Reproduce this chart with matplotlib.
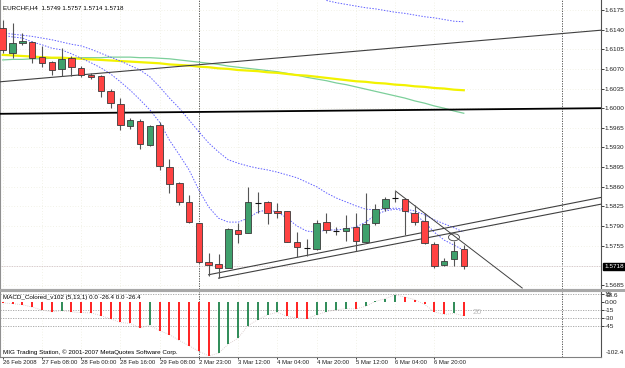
import matplotlib
matplotlib.use('Agg')
import matplotlib.pyplot as plt
import numpy as np
from matplotlib.patches import Rectangle, Ellipse

W, H = 625, 368
FONT = ['Liberation Sans', 'DejaVu Sans']
plt.rcParams['font.family'] = FONT

# ---------------- data ----------------
opens = [1.6143, 1.6098, 1.6116, 1.6118, 1.6091, 1.6082, 1.6070, 1.6089, 1.6072, 1.6059,
         1.6057, 1.6030, 1.6008, 1.5969, 1.5977, 1.5934, 1.5970, 1.5895, 1.5867, 1.5833,
         1.5795, 1.5726, 1.5722, 1.5716, 1.5783, 1.5778, 1.5831, 1.5833, 1.5817, 1.5816,
         1.5762, 1.5752, 1.5749, 1.5797, 1.5782, 1.5781, 1.5788, 1.5762, 1.5796, 1.5822,
         1.5841, 1.5839, 1.5814, 1.5799, 1.5758, 1.5721, 1.5731, 1.5749]
highs = [1.6157, 1.6152, 1.6134, 1.6120, 1.6111, 1.6084, 1.6107, 1.6093, 1.6075, 1.6063,
         1.6059, 1.6034, 1.6018, 1.5983, 1.5981, 1.5970, 1.5976, 1.5910, 1.5868, 1.5845,
         1.5796, 1.5742, 1.5740, 1.5786, 1.5795, 1.5860, 1.5851, 1.5835, 1.5831, 1.5817,
         1.5779, 1.5767, 1.5801, 1.5814, 1.5789, 1.5810, 1.5814, 1.5849, 1.5829, 1.5841,
         1.5853, 1.5840, 1.5828, 1.5813, 1.5762, 1.5733, 1.5763, 1.5757]
lows = [1.6098, 1.6089, 1.6113, 1.6081, 1.6073, 1.6059, 1.6057, 1.6057, 1.6056, 1.6052,
        1.6020, 1.6000, 1.5961, 1.5963, 1.5927, 1.5933, 1.5889, 1.5849, 1.5828, 1.5795,
        1.5724, 1.5701, 1.5697, 1.5715, 1.5760, 1.5777, 1.5813, 1.5794, 1.5804, 1.5761,
        1.5735, 1.5737, 1.5747, 1.5778, 1.5774, 1.5764, 1.5746, 1.5761, 1.5792, 1.5816,
        1.5833, 1.5774, 1.5792, 1.5758, 1.5715, 1.5718, 1.5719, 1.5714]
closes = [1.6104, 1.6116, 1.6120, 1.6089, 1.6081, 1.6068, 1.6088, 1.6073, 1.6059, 1.6056,
          1.6031, 1.6009, 1.5970, 1.5979, 1.5936, 1.5969, 1.5897, 1.5865, 1.5833, 1.5797,
          1.5726, 1.5720, 1.5715, 1.5785, 1.5776, 1.5833, 1.5832, 1.5814, 1.5813, 1.5762,
          1.5753, 1.5751, 1.5796, 1.5783, 1.5782, 1.5786, 1.5763, 1.5794, 1.5820, 1.5839,
          1.5840, 1.5816, 1.5798, 1.5759, 1.5719, 1.5728, 1.5746, 1.5718]

ma_yellow = [1.6095, 1.6094, 1.6093, 1.6092, 1.6091, 1.6090, 1.6090, 1.6089, 1.6088, 1.6087,
             1.6086, 1.6085, 1.6084, 1.6083, 1.6082, 1.6081, 1.6080, 1.6078, 1.6077, 1.6076,
             1.6074, 1.6073, 1.6071, 1.6070, 1.6068, 1.6067, 1.6066, 1.6064, 1.6063, 1.6061,
             1.6059, 1.6058, 1.6056, 1.6054, 1.6052, 1.6050, 1.6048, 1.6047, 1.6045, 1.6044,
             1.6042, 1.6041, 1.6039, 1.6038, 1.6036, 1.6035, 1.6033, 1.6032]
ma_green = [1.6086, 1.6087, 1.6087, 1.6088, 1.6088, 1.6089, 1.6089, 1.6089, 1.6090, 1.6090,
            1.6090, 1.6091, 1.6091, 1.6091, 1.6090, 1.6090, 1.6089, 1.6088, 1.6086, 1.6084,
            1.6082, 1.6080, 1.6078, 1.6075, 1.6073, 1.6071, 1.6069, 1.6067, 1.6065, 1.6062,
            1.6059, 1.6055, 1.6052, 1.6049, 1.6045, 1.6042, 1.6038, 1.6034, 1.6030, 1.6026,
            1.6022, 1.6018, 1.6013, 1.6009, 1.6004, 1.6000, 1.5995, 1.5991]
ma_fast = [1.6130, 1.6127, 1.6125, 1.6118, 1.6113, 1.6107, 1.6104, 1.6097, 1.6089, 1.6081,
           1.6072, 1.6061, 1.6047, 1.6032, 1.6015, 1.5997, 1.5975, 1.5943, 1.5917, 1.5890,
           1.5854, 1.5824, 1.5804, 1.5797, 1.5797, 1.5804, 1.5815, 1.5819, 1.5815, 1.5804,
           1.5790, 1.5781, 1.5779, 1.5783, 1.5783, 1.5785, 1.5788, 1.5797, 1.5810, 1.5817,
           1.5820, 1.5817, 1.5811, 1.5797, 1.5779, 1.5765, 1.5756, 1.5747]
ma_mid = [1.6134, 1.6132, 1.6130, 1.6128, 1.6125, 1.6122, 1.6118, 1.6114, 1.6111, 1.6105,
          1.6098, 1.6091, 1.6084, 1.6076, 1.6068, 1.6056, 1.6038, 1.6018, 1.6000, 1.5979,
          1.5958, 1.5938, 1.5922, 1.5908, 1.5902, 1.5897, 1.5893, 1.5890, 1.5886, 1.5881,
          1.5876, 1.5868, 1.5860, 1.5849, 1.5840, 1.5833, 1.5826, 1.5820, 1.5819, 1.5820,
          1.5822, 1.5820, 1.5817, 1.5810, 1.5801, 1.5794, 1.5787, 1.5779]
ma_slow = [np.nan] * 33 + [1.6192, 1.6188, 1.6185, 1.6182, 1.6179,
                           1.6177, 1.6174, 1.6171, 1.6169, 1.6166, 1.6163, 1.6161, 1.6158,
                           1.6155, 1.6154]

macd = [-2, -3.5, -5.5, -10, -15.5, -19, -17, -19, -20.5, -21,
        -26, -32.5, -39, -41, -49.5, -44.5, -54.5, -62, -73, -83,
        -93.5, -102.4, -97, -80, -68.5, -45, -34, -24.5, -20, -27.5,
        -30.5, -32, -24.5, -19, -15, -13, -13.5, -8.5, 0.8, 6,
        13, 9, 4, -5, -19, -24, -22, -26.4]

# drawn objects (bar index, price)
trend_lines = [((-0.3, 1.6047), (61.0, 1.6139), '#404040', 0.8),
               ((-0.3, 1.5990), (61.0, 1.6000), '#000000', 1.3),
               ((20.93, 1.5703), (61.0, 1.5841), '#404040', 0.8),
               ((21.95, 1.5697), (61.0, 1.5829), '#404040', 0.8),
               ((40.0, 1.5853), (53.0, 1.5679), '#404040', 0.7)]
vlines_at = [20, 57]
circle = (46.0, 1.5770, 1.12, 0.00125)

price_ticks = [1.6175, 1.6140, 1.6105, 1.6070, 1.6035, 1.6000, 1.5965, 1.5930,
               1.5895, 1.5860, 1.5825, 1.5790, 1.5755, 1.5685]
last_price = 1.5718
time_pos = [0, 4, 8, 12, 16, 20, 24, 28, 32, 36, 40, 44]
time_labels = ['26 Feb 2008', '27 Feb 08:00', '28 Feb 00:00', '28 Feb 16:00',
               '29 Feb 08:00', '2 Mar 23:00', '3 Mar 12:00', '4 Mar 04:00',
               '4 Mar 20:00', '5 Mar 12:00', '6 Mar 04:00', '6 Mar 20:00']
macd_levels = [15, -15, -30, -45]
macd_ticks = [15, 0, -15, -30, -45]
macd_ticklabels = ['15', '0.00', '-15', '-30', '-45']
macd_max, macd_min = 18.6, -102.4

title = 'EURCHF,H4  1.5749 1.5757 1.5714 1.5718'
macd_title = 'MACD_Colored_v102 (5,13,1) 0.0 -26.4 0.0 -26.4'
footer = 'MIG Trading Station, \u00a9 2001-2007 MetaQuotes Software Corp.'

FS_AX = 4.6
FS_TXT = 4.5
FS_TIME = 4.3

# ---------------- figure ----------------
fig = plt.figure(figsize=(W / 100, H / 100), dpi=100)
fig.patch.set_facecolor('white')

ax = fig.add_axes([0, (H - 289) / H, 601 / W, 289 / H])
axm = fig.add_axes([0, (H - 357) / H, 601 / W, 66 / H])
XL = (-0.275, 60.99)
for a in (ax, axm):
    a.set_xlim(*XL)
    a.set_facecolor('white')
ax.set_ylim(1.56778, 1.61928)
axm.set_ylim(-104.3, 20.4)

# separator band between panels
fig.patches.append(Rectangle((0, (H - 291.5) / H), 1, 2.5 / H, transform=fig.transFigure,
                             fc='#a8a8a8', ec='none', zorder=0))

x = np.arange(len(opens))

# grid
for t in price_ticks:
    ax.axhline(t, color='#e6e6d2', lw=0.5, ls=(0, (1, 3)), zorder=0)
for a in (ax, axm):
    for t in time_pos:
        a.axvline(t, color='#e6e6d2', lw=0.5, ls=(0, (1, 3)), zorder=0)

# vertical dotted separators
for v in vlines_at:
    for a in (ax, axm):
        a.axvline(v, color='#404040', lw=0.6, ls=(0, (1.5, 1.5)), zorder=1)

# current price line
ax.axhline(last_price, color='#c8b8b8', lw=0.6, ls=(0, (1, 1)), zorder=1)

# moving averages
ax.plot(x, ma_green, color='#7ccf9a', lw=0.9, zorder=2)
ax.plot(x, ma_yellow, color='#f2f200', lw=1.6, zorder=2)
for ma in (ma_fast, ma_mid, ma_slow):
    ax.plot(x, ma, color='#6060ff', lw=0.7, ls=(0, (1.5, 1.5)), zorder=2)

# trend lines
for (x0, y0), (x1, y1), c, lw in trend_lines:
    ax.plot([x0, x1], [y0, y1], color=c, lw=lw, zorder=3, solid_capstyle='butt')
ax.add_patch(Ellipse(circle[:2], circle[2], circle[3], fill=False, ec='#404040', lw=0.6, zorder=5))

# candles
bw = 0.66
ax.vlines(x, lows, highs, color='#555555', lw=0.8, zorder=4)
for i in x:
    o, c = opens[i], closes[i]
    lo, hi = min(o, c), max(o, c)
    if hi - lo < 0.00015:
        ax.hlines((o + c) / 2, i - bw / 2, i + bw / 2, color='#111111', lw=0.8, zorder=5)
    else:
        fc = '#3fa06c' if c > o else '#ff4242'
        ax.add_patch(Rectangle((i - bw / 2, lo), bw, hi - lo, fc=fc, ec='#3a3a3a',
                               lw=0.6, zorder=5))

# price axis
ax.yaxis.tick_right()
ax.set_yticks(price_ticks)
ax.set_yticklabels([f'{t:.4f}' for t in price_ticks])
ax.tick_params(axis='y', length=2, width=0.6, pad=0.8, labelsize=FS_AX, colors='#202020')
ax.tick_params(axis='x', bottom=False, labelbottom=False)
ax.annotate(f'{last_price:.4f}', xy=(1, last_price), xycoords=('axes fraction', 'data'),
            xytext=(2.3, 0), textcoords='offset points', va='center', ha='left',
            fontsize=FS_AX, color='white',
            bbox=dict(boxstyle='square,pad=0.15', fc='black', ec='black'))

fig.text(3 / W, 1 - 7.5 / H, title, fontsize=FS_TXT, va='center', ha='left', color='#000000')

# MACD
cols = ['#ff2020']
for i in range(1, len(macd)):
    cols.append('#2e8b57' if macd[i] > macd[i - 1] else '#ff2020')
for lv in macd_levels:
    axm.axhline(lv, color='#a0a0a0', lw=0.6, ls=(0, (1.5, 1.5)), zorder=1)
axm.vlines(x, 0, macd, colors=cols, lw=1.4, zorder=3)
axm.plot(x, macd, color='#d4c4c4', lw=0.6, ls=(0, (1, 1.5)), zorder=2)
axm.text(47.9, -21, '20', color='#bdbdbd', fontsize=6, va='center', ha='left')

axm.yaxis.tick_right()
axm.set_yticks(macd_ticks)
axm.set_yticklabels(macd_ticklabels)
axm.tick_params(axis='y', length=2, width=0.6, pad=0.8, labelsize=FS_AX, colors='#202020')
axm.annotate(f'{macd_max}', xy=(1, macd_max), xycoords=('axes fraction', 'data'),
             xytext=(3.5, -0.5), textcoords='offset points', va='top', ha='left',
             fontsize=FS_AX, color='#202020')
axm.annotate(f'{macd_min}', xy=(1, macd_min), xycoords=('axes fraction', 'data'),
             xytext=(3.5, 1), textcoords='offset points', va='bottom', ha='left',
             fontsize=FS_AX, color='#202020')
axm.set_xticks(time_pos)
axm.set_xticklabels(time_labels, ha='left')
axm.tick_params(axis='x', length=1.5, width=0.6, pad=0.4, labelsize=FS_TIME, colors='#202020')

axm.text(0.0, 9.0, macd_title, fontsize=FS_TXT, va='center', ha='left', color='#000000')
axm.text(0.0, -95, footer, fontsize=FS_TXT, va='center', ha='left', color='#000000')

for a in (ax, axm):
    a.spines['right'].set_color('#505050')
    a.spines['left'].set_color('#909090')
    a.spines['bottom'].set_color('#808080')
    a.spines['top'].set_color('#909090')
    for s in a.spines.values():
        s.set_linewidth(0.8)
ax.spines['top'].set_visible(False)

fig.savefig('out.png', dpi=100)
